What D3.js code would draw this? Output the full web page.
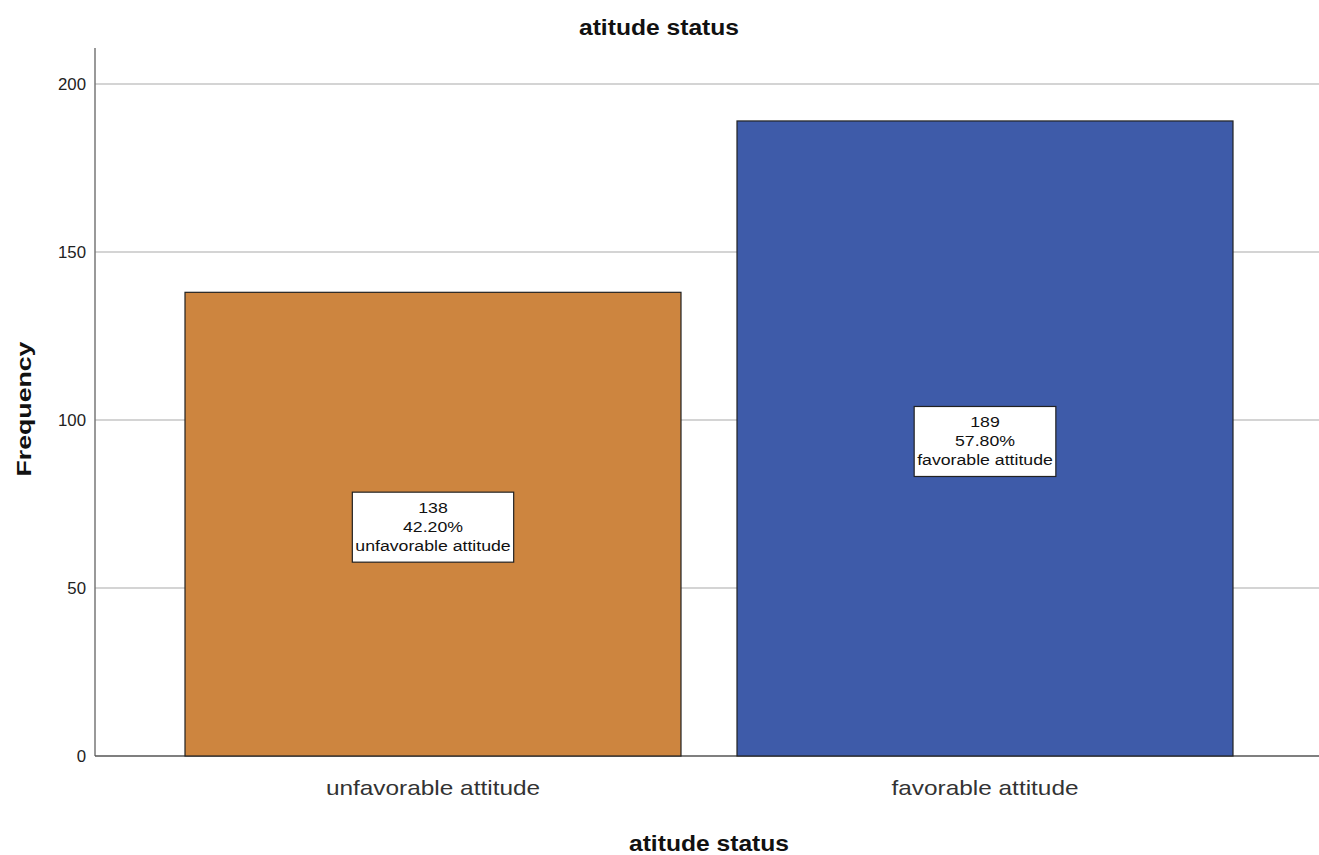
<!DOCTYPE html>
<html>
<head>
<meta charset="utf-8">
<script src="https://cdn.jsdelivr.net/npm/d3@7"></script>
<style>
  html, body { margin: 0; padding: 0; background: #fff; }
  svg { display: block; font-family: Arial, "Liberation Sans", sans-serif; }
</style>
</head>
<body>
<svg id="chart" width="1319" height="855"></svg>
<script>
// Frequency of attitude status
const categories = ["unfavorable attitude", "favorable attitude"];
const counts = [138, 189];
const percents = ["42.20%", "57.80%"];
const barColors = ["#CD853F", "#3E5BA9"];
const yTicks = [0, 50, 100, 150, 200];

const svg = d3.select("#chart");
const chartW = 1319;
const plotLeft = 95, plotTop = 48;

const y = d3.scaleLinear().domain([0, 200]).range([756, 84]);
const bandX = d3.scalePoint().domain(categories).range([433, 985]);
const bw = 496;

// text drawn with a horizontal stretch, anchored at (x, y)
function wideText(parent, x, yy, str, size, sx, opts = {}) {
  const g = parent.append("g").attr("transform", `translate(${x},${yy}) rotate(${opts.rotate || 0}) scale(${sx},1)`);
  return g.append("text").attr("text-anchor", opts.anchor || "middle")
    .attr("font-size", size).attr("font-weight", opts.weight || "normal")
    .attr("fill", opts.fill || "#111").text(str);
}

// gridlines
svg.append("g").selectAll("line").data(yTicks.filter(d => d > 0)).join("line")
  .attr("x1", plotLeft).attr("x2", chartW)
  .attr("y1", d => y(d)).attr("y2", d => y(d))
  .attr("stroke", "#d4d4d4").attr("stroke-width", 2);

// y axis (labels only, no tick marks)
const yAxis = svg.append("g").attr("transform", `translate(${plotLeft},0)`)
  .call(d3.axisLeft(y).tickValues(yTicks).tickSize(0).tickPadding(9));
yAxis.select(".domain").remove();
yAxis.selectAll(".tick text").each(function() {
  d3.select(this).attr("font-size", 16).attr("fill", "#222")
    .attr("font-family", "Arial, 'Liberation Sans', sans-serif")
    .attr("transform", "scale(1.05,1)").attr("x", -9 / 1.05);
});

// axis lines
svg.append("line").attr("x1", plotLeft).attr("x2", plotLeft).attr("y1", plotTop).attr("y2", 756)
  .attr("stroke", "#777").attr("stroke-width", 1.5);
svg.append("line").attr("x1", plotLeft).attr("x2", chartW).attr("y1", 756).attr("y2", 756)
  .attr("stroke", "#555").attr("stroke-width", 1.5);

// bars
const data = categories.map((c, i) => ({ c, v: counts[i], p: percents[i], col: barColors[i] }));
svg.append("g").selectAll("rect").data(data).join("rect")
  .attr("x", d => bandX(d.c) - bw / 2)
  .attr("y", d => y(d.v))
  .attr("width", bw)
  .attr("height", d => y(0) - y(d.v))
  .attr("fill", d => d.col)
  .attr("stroke", "#222").attr("stroke-width", 1.2);

// data labels
const sxLab = 1.18;
const lab = svg.append("g").selectAll("g").data(data).join("g")
  .attr("transform", d => `translate(${bandX(d.c)},${(y(d.v) + y(0)) / 2 + 3})`);
lab.each(function(d) {
  const g = d3.select(this);
  const lines = [String(d.v), d.p, d.c];
  const inner = g.append("g").attr("transform", `scale(${sxLab},1)`);
  const t = inner.append("text").attr("text-anchor", "middle").attr("font-size", 15).attr("fill", "#111");
  lines.forEach((s, i) => t.append("tspan").attr("x", 0).attr("y", -14 + i * 19).text(s));
  const w = t.node().getBBox().width * sxLab;
  g.insert("rect", "g")
    .attr("x", -w / 2 - 3).attr("y", -35)
    .attr("width", w + 6).attr("height", 70)
    .attr("fill", "#fff").attr("stroke", "#222").attr("stroke-width", 1.2);
});

// category labels
categories.forEach(c => wideText(svg, bandX(c), 795, c, 20, 1.22, { fill: "#333" }));

// titles
wideText(svg, 659, 35, "atitude status", 22, 1.12, { weight: "bold" });
wideText(svg, 709, 851, "atitude status", 22, 1.12, { weight: "bold" });
wideText(svg, 31, 409, "Frequency", 21, 1.27, { weight: "bold", rotate: -90 });
</script>
</body>
</html>
